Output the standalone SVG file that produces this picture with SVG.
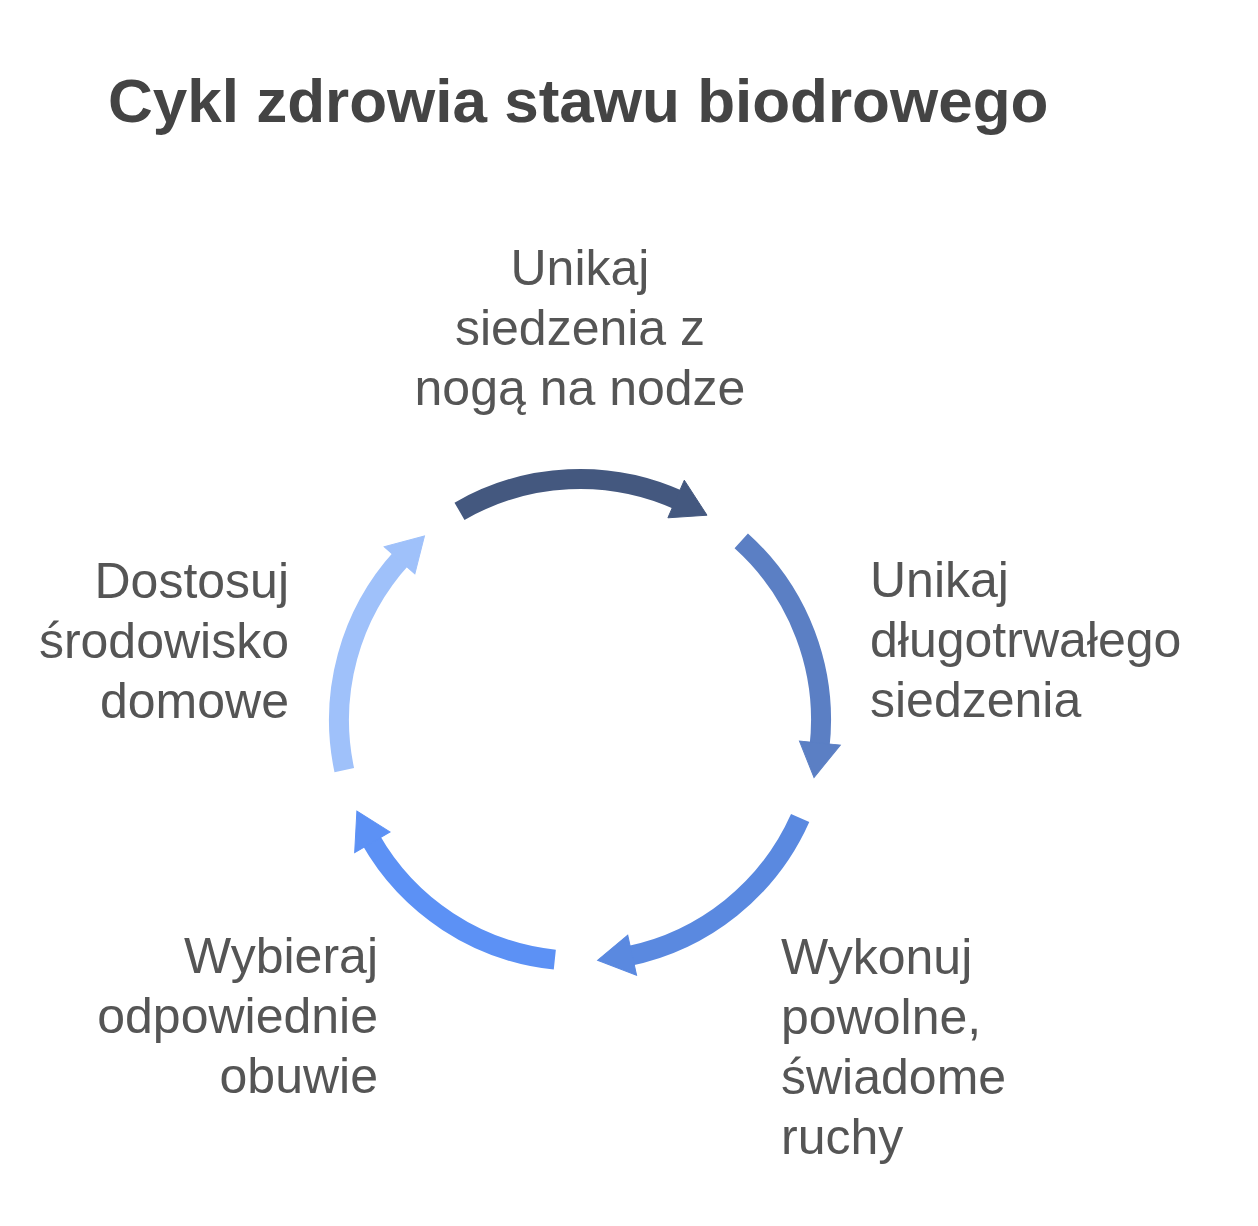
<svg xmlns="http://www.w3.org/2000/svg" width="1258" height="1226" viewBox="0 0 1258 1226">
<style>
.title{font-family:"Liberation Sans",Arial,sans-serif;font-weight:bold;font-size:62px;fill:#444444}
.lbl{font-family:"Liberation Sans",Arial,sans-serif;font-size:50px;fill:#555555}
.shaft{fill:none;stroke-width:20;stroke-linecap:butt}
</style>
<defs>
<g id="arrow">
<path class="shaft" d="M 459.5 511.3 A 241 241 0 0 1 680.0 500.7"/>
<polygon points="684.3,480.2 707.0,515.2 667.9,517.8"/>
</g>
</defs>
<rect width="1258" height="1226" fill="#ffffff"/>
<text class="title" x="108" y="122">Cykl zdrowia stawu biodrowego</text>
<g id="connectors">
<use href="#arrow" style="fill:#44587f;stroke:#44587f"/>
<use href="#arrow" transform="rotate(72 580 720)" style="fill:#5b7fc4;stroke:#5b7fc4"/>
<use href="#arrow" transform="rotate(144 580 720)" style="fill:#5a89e0;stroke:#5a89e0"/>
<use href="#arrow" transform="rotate(216 580 720)" style="fill:#5c91f5;stroke:#5c91f5"/>
<use href="#arrow" transform="rotate(288 580 720)" style="fill:#9fc1fa;stroke:#9fc1fa"/>
</g>
<g id="node-top">
<text class="lbl" text-anchor="middle"><tspan x="580" y="285">Unikaj</tspan><tspan x="580" y="345">siedzenia z</tspan><tspan x="580" y="405">nogą na nodze</tspan></text>
</g>
<g id="node-right">
<text class="lbl"><tspan x="870" y="597">Unikaj</tspan><tspan x="870" y="657">długotrwałego</tspan><tspan x="870" y="717">siedzenia</tspan></text>
</g>
<g id="node-bottom-right">
<text class="lbl"><tspan x="781" y="974">Wykonuj</tspan><tspan x="781" y="1034">powolne,</tspan><tspan x="781" y="1094">świadome</tspan><tspan x="781" y="1154">ruchy</tspan></text>
</g>
<g id="node-bottom-left">
<text class="lbl" text-anchor="end"><tspan x="378" y="973">Wybieraj</tspan><tspan x="378" y="1033">odpowiednie</tspan><tspan x="378" y="1093">obuwie</tspan></text>
</g>
<g id="node-left">
<text class="lbl" text-anchor="end"><tspan x="289" y="598">Dostosuj</tspan><tspan x="289" y="658">środowisko</tspan><tspan x="289" y="718">domowe</tspan></text>
</g>
</svg>
